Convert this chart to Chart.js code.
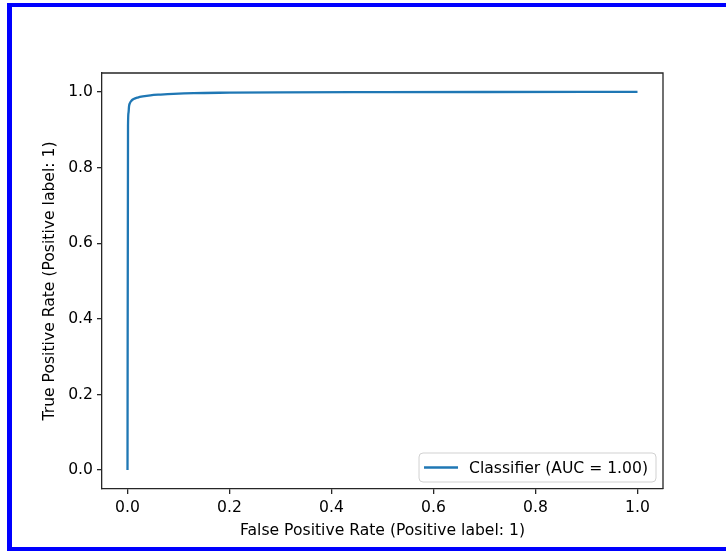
<!DOCTYPE html>
<html>
<head>
    <title>ROC curve</title>
    <style>
        html, body { margin: 0; padding: 0; background: #fff; overflow: hidden; }
        #wrap { position: relative; width: 726px; height: 552px; }
        #frame {
            position: absolute; left: 7px; top: 3px; width: 800px; height: 540px;
            border-top: 4px solid #0000ff; border-left: 5px solid #0000ff; border-bottom: 4px solid #0000ff;
            pointer-events: none;
        }
        canvas { position: absolute; left: 0; top: 0; }
    </style>
    <script src="https://cdn.jsdelivr.net/npm/chart.js"></script>
</head>
<body>
<div id="wrap">
    <canvas id="roc" width="726" height="552"></canvas>
    <div id="frame"></div>
</div>
<script>
    // ROC points
    const fpr = [0, 0.001, 0.002, 0.003, 0.005, 0.008, 0.012, 0.02, 0.03, 0.045, 0.065, 0.09, 0.13, 0.2, 0.3, 0.5, 0.7, 1.0];
    const tpr = [0, 0.91, 0.945, 0.962, 0.971, 0.977, 0.981, 0.985, 0.988, 0.991, 0.993, 0.995, 0.997, 0.998, 0.999, 0.9995, 0.9998, 1.0];
    const xTicks = [0, 0.2, 0.4, 0.6, 0.8, 1.0];
    const yTicks = [0, 0.2, 0.4, 0.6, 0.8, 1.0];
    const seriesLabel = 'Classifier (AUC = 1.00)';

    const FONT = 'DejaVu Sans';
    const FSIZE = 15.6;
    const axisColor = '#262626';

    // top + right spines and the matplotlib-style legend box
    const frameAndLegend = {
        id: 'frameAndLegend',
        afterDraw(chart) {
            const ctx = chart.ctx;
            const a = chart.chartArea;
            ctx.save();
            ctx.strokeStyle = axisColor;
            ctx.lineWidth = 1.3;
            ctx.beginPath();
            ctx.moveTo(a.left, a.top);
            ctx.lineTo(a.right, a.top);
            ctx.lineTo(a.right, a.bottom);
            ctx.stroke();

            const ds = chart.data.datasets[0];
            ctx.font = FSIZE + 'px "' + FONT + '"';
            const tw = ctx.measureText(ds.label).width;
            const w = 5 + 34 + 11 + tw + 8;
            const h = 29;
            const x = a.right - 7 - w;
            const y = a.bottom - 7 - h;
            ctx.beginPath();
            ctx.roundRect(x, y, w, h, 4);
            ctx.fillStyle = 'rgba(255,255,255,0.8)';
            ctx.fill();
            ctx.strokeStyle = 'rgba(204,204,204,0.9)';
            ctx.lineWidth = 1;
            ctx.stroke();

            ctx.strokeStyle = ds.borderColor;
            ctx.lineWidth = ds.borderWidth;
            ctx.beginPath();
            ctx.moveTo(x + 5, y + h / 2);
            ctx.lineTo(x + 39, y + h / 2);
            ctx.stroke();

            ctx.fillStyle = '#000';
            ctx.textBaseline = 'middle';
            ctx.fillText(ds.label, x + 50, y + h / 2 + 1);
            ctx.restore();
        }
    };

    new Chart(document.getElementById('roc'), {
        type: 'line',
        data: {
            datasets: [{
                label: seriesLabel,
                data: fpr.map((v, i) => ({ x: v, y: tpr[i] })),
                borderColor: '#1f77b4',
                borderWidth: 2.3,
                pointRadius: 0,
                cubicInterpolationMode: 'monotone',
                fill: false
            }]
        },
        options: {
            responsive: false,
            animation: false,
            layout: { padding: { top: 73, right: 63, left: 0, bottom: 0 } },
            plugins: {
                legend: { display: false },
                tooltip: { enabled: false }
            },
            scales: {
                x: {
                    type: 'linear',
                    min: -0.05,
                    max: 1.05,
                    afterBuildTicks: s => { s.ticks = xTicks.map(v => ({ value: v })); },
                    afterFit: s => { s.height = 63; },
                    grid: { drawOnChartArea: false, drawTicks: true, tickLength: 5, color: axisColor, lineWidth: 1.3 },
                    border: { display: true, color: axisColor, width: 1.3 },
                    ticks: {
                        padding: 5,
                        color: '#000',
                        maxRotation: 0,
                        font: { family: FONT, size: FSIZE },
                        callback: v => v.toFixed(1)
                    },
                    title: {
                        display: true,
                        text: 'False Positive Rate (Positive label: 1)',
                        color: '#000',
                        font: { family: FONT, size: FSIZE },
                        padding: { top: 4, bottom: 12 }
                    }
                },
                y: {
                    type: 'linear',
                    min: -0.05,
                    max: 1.05,
                    afterBuildTicks: s => { s.ticks = yTicks.map(v => ({ value: v })); },
                    afterFit: s => { s.width = 102; },
                    grid: { drawOnChartArea: false, drawTicks: true, tickLength: 5, color: axisColor, lineWidth: 1.3 },
                    border: { display: true, color: axisColor, width: 1.3 },
                    ticks: {
                        padding: 4,
                        color: '#000',
                        font: { family: FONT, size: FSIZE },
                        callback: v => v.toFixed(1)
                    },
                    title: {
                        display: true,
                        text: 'True Positive Rate (Positive label: 1)',
                        color: '#000',
                        font: { family: FONT, size: FSIZE },
                        padding: { top: 41, bottom: 4 }
                    }
                }
            }
        },
        plugins: [frameAndLegend]
    });
</script>
</body>
</html>
